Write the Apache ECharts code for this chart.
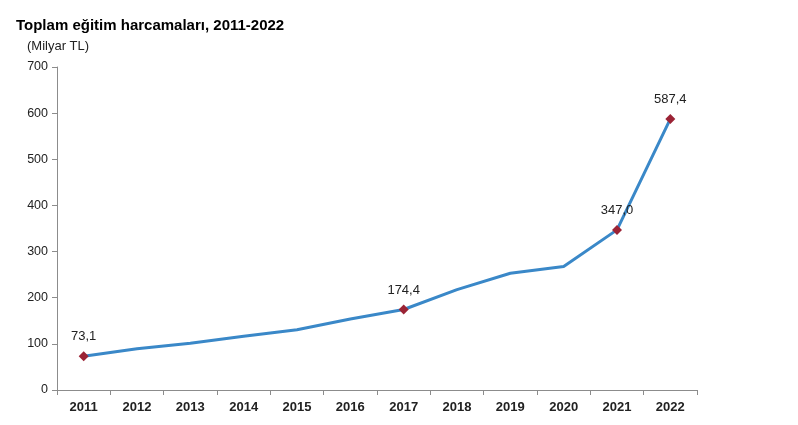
<!DOCTYPE html>
<html><head><meta charset="utf-8">
<script src="https://cdn.jsdelivr.net/npm/echarts@6/dist/echarts.min.js"></script>
<style>html,body{margin:0;padding:0;background:#fff}#c{width:798px;height:425px}</style>
</head><body><div id="c"></div>
<script>
const years = ['2011','2012','2013','2014','2015','2016','2017','2018','2019','2020','2021','2022'];
const values = [73.1, 89.5, 101.5, 116.5, 130.5, 154.0, 174.4, 217.5, 253.0, 267.5, 347.0, 587.4];
const labeledYears = ['2011','2017','2021','2022'];
const yTicks = [0,100,200,300,400,500,600,700];

const chart = echarts.init(document.getElementById('c'), null, {renderer:'canvas'});
const fmt = v => v.toFixed(1).replace('.', ',');
chart.setOption({
  animation:false,
  title:[
    {text:'Toplam eğitim harcamaları, 2011-2022', left:11, top:13,
     textStyle:{fontFamily:'Liberation Sans, Arial', fontSize:15, fontWeight:'bold', color:'#000'}},
    {text:'(Milyar TL)', left:22, top:35,
     textStyle:{fontFamily:'Liberation Sans, Arial', fontSize:13, fontWeight:'normal', color:'#222'}}
  ],
  grid:{left:57, right:101, top:67, bottom:35},
  xAxis:{type:'category', data:years, boundaryGap:true,
    axisLine:{lineStyle:{color:'#8c8c8c', width:1}},
    axisTick:{show:true, length:5, inside:false, alignWithLabel:false, lineStyle:{color:'#8c8c8c'}},
    axisLabel:{fontFamily:'Liberation Sans, Arial', fontSize:13, fontWeight:'bold', color:'#222', margin:11}},
  yAxis:{type:'value', min:0, max:700, interval:100,
    splitLine:{show:false},
    axisLine:{show:true, lineStyle:{color:'#8c8c8c', width:1}},
    axisTick:{show:true, length:5, lineStyle:{color:'#8c8c8c'}},
    axisLabel:{fontFamily:'Liberation Sans, Arial', fontSize:12.5, color:'#222', margin:9}},
  series:[{
    type:'line',
    data: values.map((v,i)=>{
      const lab = labeledYears.includes(years[i]);
      return {value:v, symbol: lab?'diamond':'none', symbolSize: lab?10:0,
        label:{show:lab, position:'top', distance:8, formatter:()=>fmt(v),
               fontFamily:'Liberation Sans, Arial', fontSize:13, color:'#222'}};
    }),
    lineStyle:{color:'#3a88c8', width:3},
    itemStyle:{color:'#9b2335'},
    showAllSymbol:true,
    z:3
  }]
});
</script></body></html>
